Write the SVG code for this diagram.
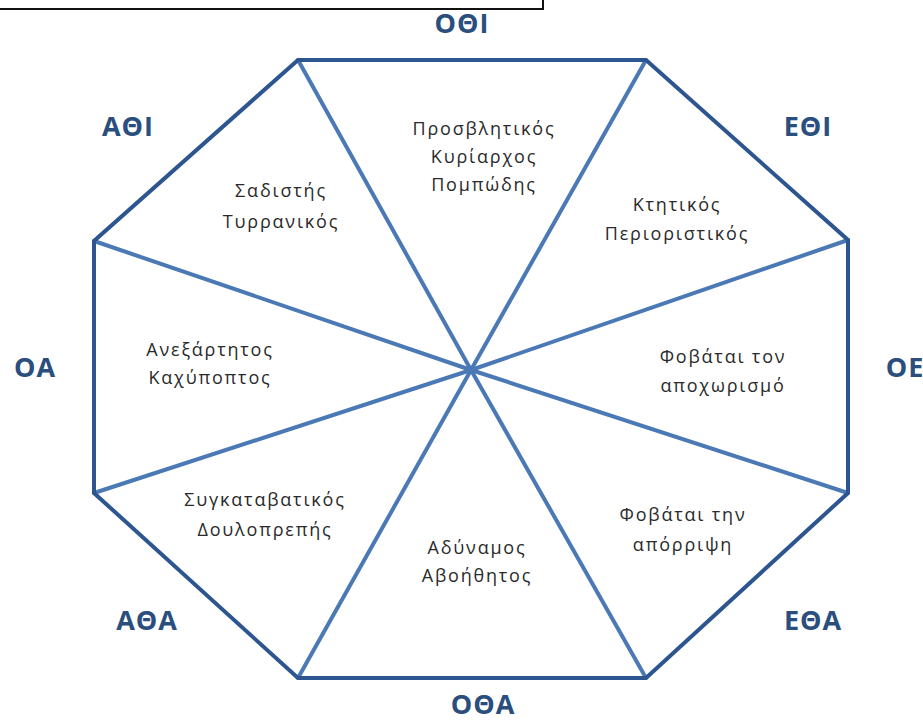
<svg xmlns="http://www.w3.org/2000/svg" width="923" height="722" viewBox="0 0 923 722">
  <style>
    .edge { fill: none; stroke: #2d5590; stroke-width: 4; stroke-linejoin: miter; }
    .spoke { stroke: #4a79b6; stroke-width: 4; stroke-linecap: round; }
    .frame { fill: none; stroke: #111; stroke-width: 2; }
    .lbl { font-family: "Open Sans", "Liberation Sans", sans-serif; font-weight: bold; font-size: 27px; fill: #2a4e7e; text-anchor: middle; letter-spacing: 1px; }
    .txt { font-family: "Open Sans", "Liberation Sans", sans-serif; font-size: 18px; fill: #2a2a2a; text-anchor: middle; letter-spacing: 1.8px; }
  </style>
  <rect width="923" height="722" fill="#fff"/>
  <!-- frame above the octagon -->
  <polyline class="frame" points="0,9 543,9 543,0"/>

  <g id="connectors">
    <line class="spoke" x1="471" y1="370" x2="298" y2="60"/>
    <line class="spoke" x1="471" y1="370" x2="646" y2="60"/>
    <line class="spoke" x1="471" y1="370" x2="848" y2="240"/>
    <line class="spoke" x1="471" y1="370" x2="848" y2="493"/>
    <line class="spoke" x1="471" y1="370" x2="646" y2="678"/>
    <line class="spoke" x1="471" y1="370" x2="298" y2="678"/>
    <line class="spoke" x1="471" y1="370" x2="94" y2="493"/>
    <line class="spoke" x1="471" y1="370" x2="94" y2="241"/>
  </g>

  <g id="octagon">
    <polygon class="edge" points="298,60 646,60 848,240 848,493 646,678 298,678 94,493 94,241"/>
  </g>

  <g id="sector-top">
    <text class="txt" x="484" y="135">Προσβλητικός</text>
    <text class="txt" x="484" y="163">Κυρίαρχος</text>
    <text class="txt" x="484" y="191">Πομπώδης</text>
  </g>
  <g id="sector-top-left">
    <text class="txt" x="281" y="197">Σαδιστής</text>
    <text class="txt" x="281" y="228">Τυρρανικός</text>
  </g>
  <g id="sector-top-right">
    <text class="txt" x="677" y="211">Κτητικός</text>
    <text class="txt" x="677" y="240">Περιοριστικός</text>
  </g>
  <g id="sector-left">
    <text class="txt" x="210" y="356">Ανεξάρτητος</text>
    <text class="txt" x="210" y="384">Καχύποπτος</text>
  </g>
  <g id="sector-right">
    <text class="txt" x="723" y="363">Φοβάται τον</text>
    <text class="txt" x="723" y="392">αποχωρισμό</text>
  </g>
  <g id="sector-bottom-left">
    <text class="txt" x="265" y="506">Συγκαταβατικός</text>
    <text class="txt" x="265" y="536">Δουλοπρεπής</text>
  </g>
  <g id="sector-bottom">
    <text class="txt" x="477" y="554">Αδύναμος</text>
    <text class="txt" x="477" y="582">Αβοήθητος</text>
  </g>
  <g id="sector-bottom-right">
    <text class="txt" x="683" y="521">Φοβάται την</text>
    <text class="txt" x="683" y="551">απόρριψη</text>
  </g>

  <g id="labels">
    <text class="lbl" x="462" y="33">ΟΘΙ</text>
    <text class="lbl" x="128" y="136">ΑΘΙ</text>
    <text class="lbl" x="808" y="136">ΕΘΙ</text>
    <text class="lbl" x="35" y="377">ΟΑ</text>
    <text class="lbl" x="905" y="377">ΟΕ</text>
    <text class="lbl" x="147" y="630">ΑΘΑ</text>
    <text class="lbl" x="813" y="630">ΕΘΑ</text>
    <text class="lbl" x="483" y="714">ΟΘΑ</text>
  </g>
</svg>
